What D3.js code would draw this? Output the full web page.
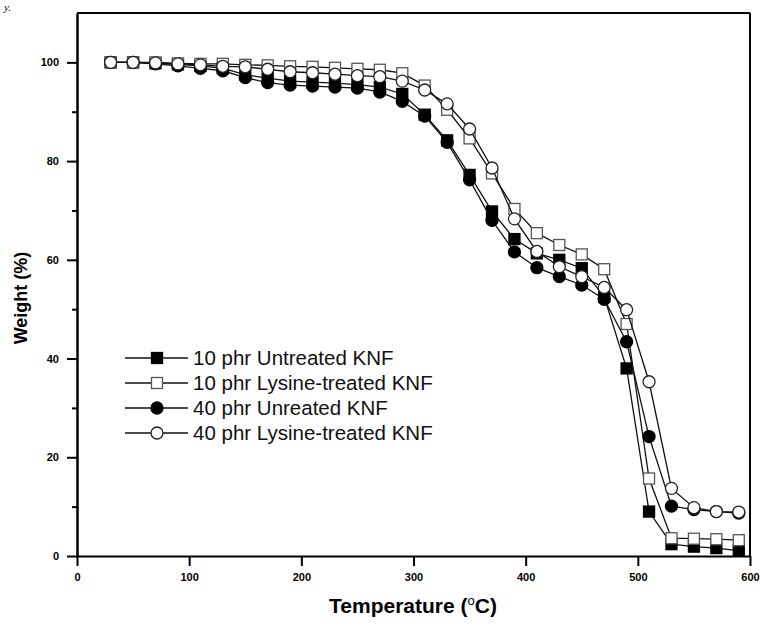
<!DOCTYPE html>
<html>
<head>
<meta charset="utf-8">
<script src="https://cdn.jsdelivr.net/npm/d3@7"></script>
<style>
  body { margin: 0; background: #fff; }
  svg { display: block; font-family: Arial, "Liberation Sans", sans-serif; }
  .axis path, .axis line { stroke: #000; stroke-width: 2; }
  .axis text { font-size: 11px; font-weight: bold; fill: #000; }
</style>
</head>
<body>
<svg id="chart" width="761" height="629"></svg>
<script>
///////////////////////////////////////////
// Data
///////////////////////////////////////////
var temps = [30, 50, 70, 90, 110, 130, 150, 170, 190, 210, 230, 250, 270, 290, 310,
             330, 350, 370, 390, 410, 430, 450, 470, 490, 510, 530, 550, 570, 590];

var untreated10 = [100, 100, 99.8, 99.6, 99.3, 98.8, 97.5, 96.8, 96.2, 96.0, 95.8, 95.5, 95.0, 93.6, 89.4,
                   84.2, 77.2, 69.8, 64.2, 61.3, 60.0, 58.3, 52.5, 38.0, 9.0, 2.4, 1.9, 1.6, 1.1];
var lysine10    = [100, 100, 100, 99.8, 99.7, 99.7, 99.5, 99.4, 99.2, 99.1, 98.9, 98.7, 98.5, 97.8, 95.3,
                   90.4, 84.6, 77.5, 70.3, 65.4, 63.0, 61.1, 58.1, 47.0, 15.7, 3.6, 3.5, 3.4, 3.2];
var untreated40 = [100, 100, 99.7, 99.3, 98.8, 98.3, 96.9, 95.9, 95.4, 95.2, 95.0, 94.8, 94.0, 92.1, 89.1,
                   83.8, 76.2, 68.0, 61.6, 58.4, 56.6, 54.9, 52.0, 43.4, 24.2, 10.1, 9.4, 9.0, 8.7];
var lysine40    = [100, 100, 99.9, 99.7, 99.5, 99.2, 99.1, 98.6, 98.1, 97.9, 97.6, 97.3, 97.1, 96.2, 94.4,
                   91.6, 86.5, 78.6, 68.3, 61.7, 58.6, 56.6, 54.4, 49.9, 35.3, 13.7, 9.8, 9.0, 8.9];

var seriesNames = ["10 phr Untreated KNF", "10 phr Lysine-treated KNF",
                   "40 phr Unreated KNF", "40 phr Lysine-treated KNF"];
var seriesValues = [untreated10, lysine10, untreated40, lysine40];
var seriesShapes = ["square", "square", "circle", "circle"];
var seriesFilled = [true, false, true, false];

var xTicks = [0, 100, 200, 300, 400, 500, 600];
var yTicks = [0, 20, 40, 60, 80, 100];
var yMinor = [10, 30, 50, 70, 90];

///////////////////////////////////////////
// Chart
///////////////////////////////////////////
var svg = d3.select("#chart");
var margin = {top: 13, right: 11, bottom: 73, left: 77};
var width = +svg.attr("width") - margin.left - margin.right;
var height = +svg.attr("height") - margin.top - margin.bottom;

// stray text fragment at the page corner
svg.append("text")
    .attr("x", 4).attr("y", 11)
    .style("font-family", "'Liberation Serif', serif")
    .style("font-style", "italic")
    .style("font-size", "11px")
    .text("y.");

var g = svg.append("g").attr("transform", "translate(" + margin.left + "," + margin.top + ")");

var x = d3.scaleLinear().domain([0, 600]).range([0, width]);
var y = d3.scaleLinear().domain([0, 110]).range([height, 0]);

// frame (top + right)
g.append("line").attr("x1", 0).attr("x2", width).attr("y1", 0).attr("y2", 0)
    .attr("stroke", "#000").attr("stroke-width", 2);
g.append("line").attr("x1", width).attr("x2", width).attr("y1", 0).attr("y2", height)
    .attr("stroke", "#000").attr("stroke-width", 2);

g.append("g").attr("class", "axis")
    .call(d3.axisLeft(y).tickValues(yMinor).tickSize(5).tickSizeOuter(0).tickFormat(""));
g.append("g").attr("class", "axis")
    .call(d3.axisLeft(y).tickValues(yTicks).tickSize(10).tickSizeOuter(0).tickPadding(8));
g.append("g").attr("class", "axis")
    .attr("transform", "translate(0," + height + ")")
    .call(d3.axisBottom(x).tickValues(xTicks).tickSize(10).tickSizeOuter(0).tickPadding(7));

// axis titles
svg.append("text")
    .attr("transform", "translate(27,298) rotate(-90)")
    .attr("text-anchor", "middle")
    .style("font-size", "18px").style("font-weight", "bold")
    .text("Weight (%)");

var xt = svg.append("text")
    .attr("x", 413).attr("y", 613)
    .attr("text-anchor", "middle")
    .style("font-size", "21px").style("font-weight", "bold");
xt.append("tspan").text("Temperature (");
xt.append("tspan").attr("dy", -8).style("font-size", "13px").style("font-weight", "normal").text("o");
xt.append("tspan").attr("dy", 8).text("C)");

///////////////////////////////////////////
// Series
///////////////////////////////////////////
var line = d3.line()
    .x(function(d, i) { return x(temps[i]); })
    .y(function(d) { return y(d); });

function drawMarker(sel, shape, filled, cx, cy) {
    var stroke = filled ? "#000" : (shape == "square" ? "#555" : "#222");
    var fill = filled ? "#000" : "#fff";
    if (shape == "square") {
        sel.append("rect")
            .attr("x", cx - 5.5).attr("y", cy - 5.5)
            .attr("width", 11).attr("height", 11)
            .attr("fill", fill).attr("stroke", stroke).attr("stroke-width", 1.3);
    } else {
        sel.append("circle")
            .attr("cx", cx).attr("cy", cy).attr("r", 6)
            .attr("fill", fill).attr("stroke", stroke).attr("stroke-width", 1.3);
    }
}

seriesValues.forEach(function(vals, s) {
    var sg = g.append("g");
    sg.append("path")
        .datum(vals)
        .attr("d", line)
        .attr("fill", "none")
        .attr("stroke", "#111")
        .attr("stroke-width", 1.3);
    vals.forEach(function(v, i) {
        drawMarker(sg, seriesShapes[s], seriesFilled[s], x(temps[i]), y(v));
    });
});

///////////////////////////////////////////
// Legend
///////////////////////////////////////////
var legend = svg.append("g").attr("transform", "translate(125,358)");
seriesNames.forEach(function(name, s) {
    var row = legend.append("g").attr("transform", "translate(0," + (s * 25) + ")");
    row.append("line").attr("x1", 0).attr("x2", 63).attr("y1", 0).attr("y2", 0)
        .attr("stroke", "#111").attr("stroke-width", 1.3);
    drawMarker(row, seriesShapes[s], seriesFilled[s], 32, 0);
    row.append("text")
        .attr("x", 68).attr("y", 0).attr("dy", "0.36em")
        .style("font-size", "20.5px")
        .attr("fill", "#111")
        .text(name);
});
</script>
</body>
</html>
